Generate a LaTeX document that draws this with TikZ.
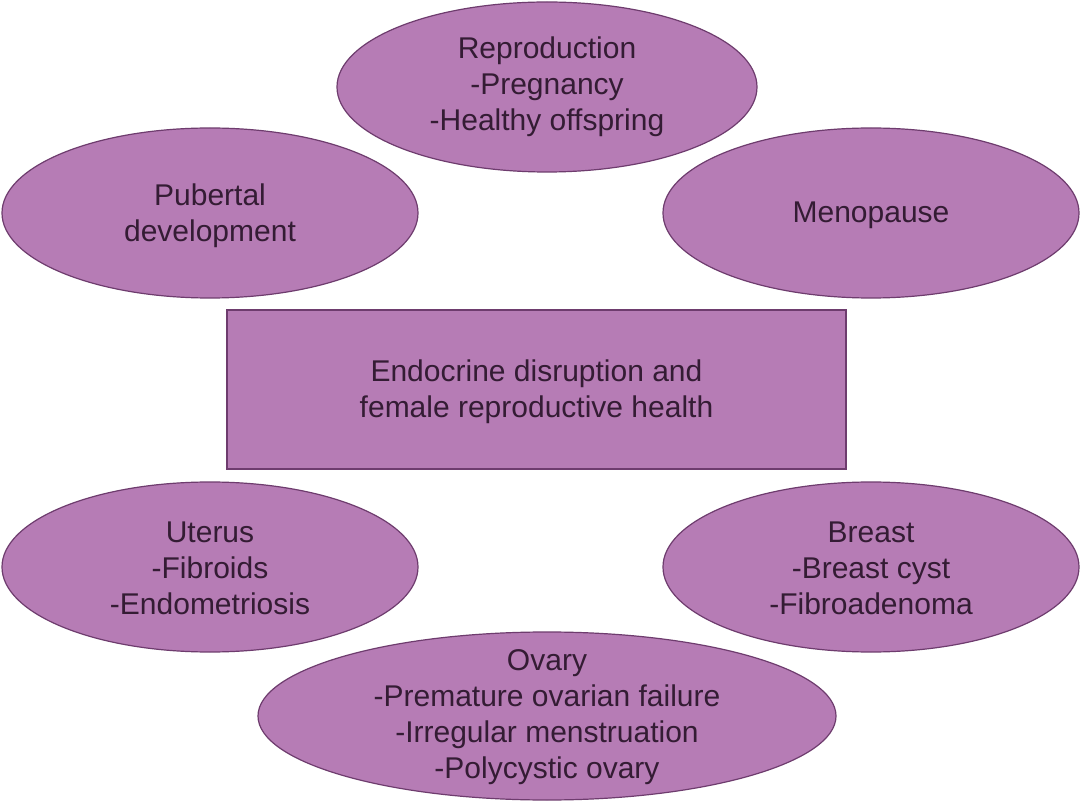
\documentclass[tikz,border=0pt]{standalone}
\usepackage{fontspec}
\setmainfont{Liberation Sans}
\usetikzlibrary{shapes.geometric}
\definecolor{fillp}{RGB}{182,124,181}
\definecolor{edgep}{RGB}{110,60,110}
\definecolor{txtp}{RGB}{52,28,52}
\tikzset{
  blob/.style={ellipse, draw=edgep, fill=fillp, line width=1.2pt, inner sep=0pt},
  boxp/.style={rectangle, draw=edgep, fill=fillp, line width=1.2pt, inner sep=0pt},
  lbl/.style={align=center, text=txtp, font=\fontsize{30}{36}\selectfont, inner sep=0pt}
}
\begin{document}
\begin{tikzpicture}[x=1pt,y=-1pt]
\useasboundingbox (0,0) rectangle (1080,802);
\fill[white] (0,0) rectangle (1080,802);
\node[blob, minimum width=420pt, minimum height=170pt] (repro) at (547,87) {};
\node[lbl] (reprot) at (547,87) {Reproduction\\-Pregnancy\\-Healthy offspring};
\node[blob, minimum width=416pt, minimum height=170pt] (pub) at (210,213) {};
\node[lbl] (pubt) at (210,216) {Pubertal\\development};
\node[blob, minimum width=416pt, minimum height=170pt] (meno) at (871,213) {};
\node[lbl] (menot) at (871,215) {Menopause};
\node[boxp, minimum width=619pt, minimum height=159pt] (center) at (536.5,389.5) {};
\node[lbl] (centert) at (536.5,392) {Endocrine disruption and\\female reproductive health};
\node[blob, minimum width=416pt, minimum height=170pt] (uterus) at (210,567) {};
\node[lbl] (uterust) at (210,568) {Uterus\\-Fibroids\\-Endometriosis};
\node[blob, minimum width=416pt, minimum height=170pt] (breast) at (871,567) {};
\node[lbl] (breastt) at (871,568) {Breast\\-Breast cyst\\-Fibroadenoma};
\node[blob, minimum width=578pt, minimum height=168pt] (ovary) at (547,716) {};
\node[lbl] (ovaryt) at (547,717) {Ovary\\-Premature ovarian failure\\-Irregular menstruation\\-Polycystic ovary};
\end{tikzpicture}
\end{document}
